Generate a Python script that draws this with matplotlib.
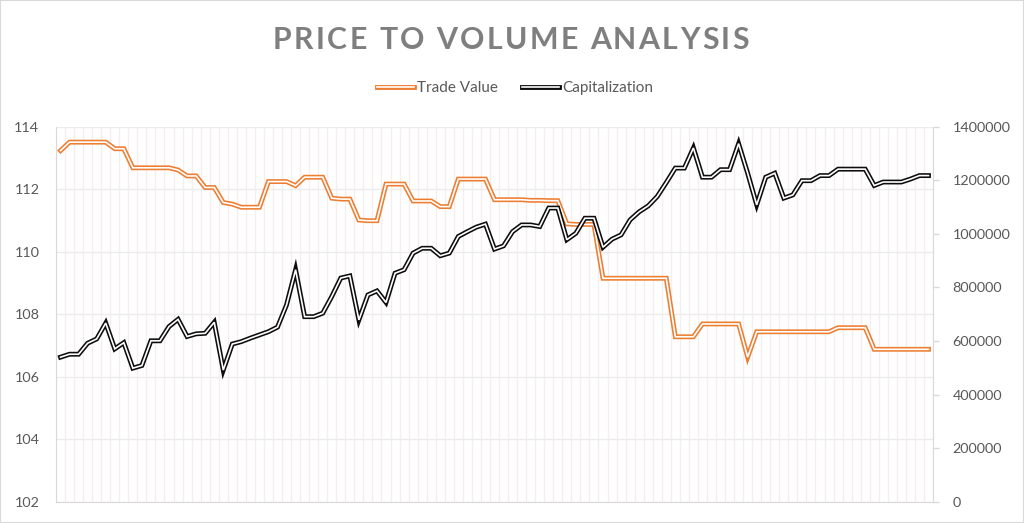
import numpy as np
import matplotlib
matplotlib.use('Agg')
import matplotlib.pyplot as plt
import matplotlib.patheffects as pe
from matplotlib.ticker import FuncFormatter

plt.rcParams['font.family'] = ['Lato', 'DejaVu Sans']

# values
trade_value = [
    113.23, 113.50, 113.50, 113.50, 113.50, 113.50, 113.29, 113.29, 112.68, 112.68,
    112.68, 112.68, 112.68, 112.61, 112.42, 112.42, 112.05, 112.05, 111.57, 111.52,
    111.42, 111.42, 111.42, 112.24, 112.24, 112.24, 112.11, 112.38, 112.38, 112.38,
    111.71, 111.68, 111.68, 111.01, 110.99, 110.99, 112.16, 112.16, 112.16, 111.62,
    111.62, 111.62, 111.44, 111.44, 112.32, 112.32, 112.32, 112.32, 111.66, 111.66,
    111.66, 111.66, 111.64, 111.64, 111.63, 111.63, 110.89, 110.87, 110.87, 110.87,
    109.15, 109.15, 109.15, 109.15, 109.15, 109.15, 109.15, 109.15, 107.28, 107.28,
    107.28, 107.69, 107.69, 107.69, 107.69, 107.69, 106.63, 107.44, 107.44, 107.44,
    107.44, 107.44, 107.44, 107.44, 107.44, 107.44, 107.57, 107.57, 107.57, 107.57,
    106.88, 106.88, 106.88, 106.88, 106.88, 106.88, 106.88,
]
capitalization = [
    540000, 551000, 551000, 592000, 608000, 667000, 571000, 594000, 499000, 509000,
    601000, 601000, 654000, 681000, 617000, 627000, 629000, 670000, 492000, 589000,
    598000, 611000, 623000, 635000, 652000, 735000, 866000, 691000, 691000, 704000,
    766000, 835000, 843000, 679000, 772000, 787000, 744000, 853000, 866000, 928000,
    946000, 946000, 918000, 928000, 990000, 1008000, 1025000, 1036000, 943000, 955000,
    1008000, 1033000, 1033000, 1027000, 1096000, 1096000, 978000, 1002000, 1058000, 1058000,
    950000, 980000, 996000, 1052000, 1082000, 1104000, 1139000, 1191000, 1245000, 1245000,
    1320000, 1211000, 1211000, 1239000, 1239000, 1336000, 1226000, 1108000, 1211000, 1226000,
    1133000, 1145000, 1198000, 1198000, 1217000, 1217000, 1241000, 1241000, 1241000, 1241000,
    1180000, 1193000, 1193000, 1193000, 1204000, 1217000, 1217000,
]
left_ticks = [102, 104, 106, 108, 110, 112, 114]
right_ticks = [0, 200000, 400000, 600000, 800000, 1000000, 1200000, 1400000]
title = 'PRICE TO VOLUME ANALYSIS'

orange = '#ED7D31'
black = '#0d0d0d'
label_color = '#595959'
line_grey = '#d9d9d9'

W, H = 1024, 523
fig = plt.figure(figsize=(W / 100, H / 100), dpi=100)
ax = fig.add_axes([56 / W, 1 - 502 / H, (933 - 56) / W, (502 - 126.5) / H])
ax2 = ax.twinx()

x = np.arange(len(trade_value))


def double_line(color):
    return [pe.Stroke(linewidth=3.5, foreground=color, joinstyle='miter'),
            pe.Normal()]


ax.plot(x, trade_value, color='white', lw=1.2, solid_joinstyle='miter',
        path_effects=double_line(orange), label='Trade Value', zorder=3)
ax2.plot(x, capitalization, color='white', lw=1.2, solid_joinstyle='miter',
         path_effects=double_line(black), label='Capitalization', zorder=3)

ax.set_xlim(-0.5, len(x) - 0.5)
ax.set_ylim(102, 114)
ax.set_yticks(left_ticks)
ax2.set_ylim(0, 1400000)
ax2.set_yticks(right_ticks)
ax2.yaxis.set_major_formatter(FuncFormatter(lambda v, p: f'{int(v)}'))

ax.set_xticks(np.arange(-0.5, len(x), 1))
ax.tick_params(axis='x', length=0, labelbottom=False)
ax.tick_params(axis='y', length=0, pad=12, labelsize=10.4, labelcolor=label_color)
ax2.tick_params(axis='y', length=4, width=1, color=line_grey, pad=10,
                labelsize=10.4, labelcolor=label_color)

ax.grid(True, axis='x', color='#f5eeee', lw=1.0)
ax.grid(True, axis='y', color='#ececec', lw=1.0)
ax.set_axisbelow(True)

for a in (ax, ax2):
    for s in a.spines.values():
        s.set_visible(False)
ax.spines['left'].set_visible(True)
ax.spines['left'].set_color(line_grey)
ax.spines['bottom'].set_visible(True)
ax.spines['bottom'].set_color(line_grey)
ax2.spines['right'].set_visible(True)
ax2.spines['right'].set_color(line_grey)

# legend
h1, l1 = ax.get_legend_handles_labels()
h2, l2 = ax2.get_legend_handles_labels()
fig.legend(h1 + h2, l1 + l2, loc='center', bbox_to_anchor=(0.503, 1 - 88 / H),
           ncol=2, frameon=False, fontsize=11, handlelength=2.4,
           handletextpad=0.2, columnspacing=1.6, labelcolor=label_color)

# letter-spaced title
renderer = fig.canvas.get_renderer()
tkw = dict(fontsize=21.8, fontweight='bold', color='#7f7f7f')


def text_width(s):
    t = fig.text(0, 0, s, **tkw)
    w = t.get_window_extent(renderer).width
    t.remove()
    return w


base = text_width('HH')
widths = [text_width('H' + c + 'H') - base for c in title]
gap = ((749 - 273) - sum(widths)) / (len(title) - 1)
pos = 273
for c, w in zip(title, widths):
    fig.text(pos / W, 1 - 49 / H, c, ha='left', va='baseline', **tkw)
    pos += w + gap

fig.add_artist(plt.Rectangle((0, 0), 1, 1, transform=fig.transFigure,
                             fill=False, edgecolor=line_grey, lw=1.5))

fig.savefig('out.png', dpi=100)
